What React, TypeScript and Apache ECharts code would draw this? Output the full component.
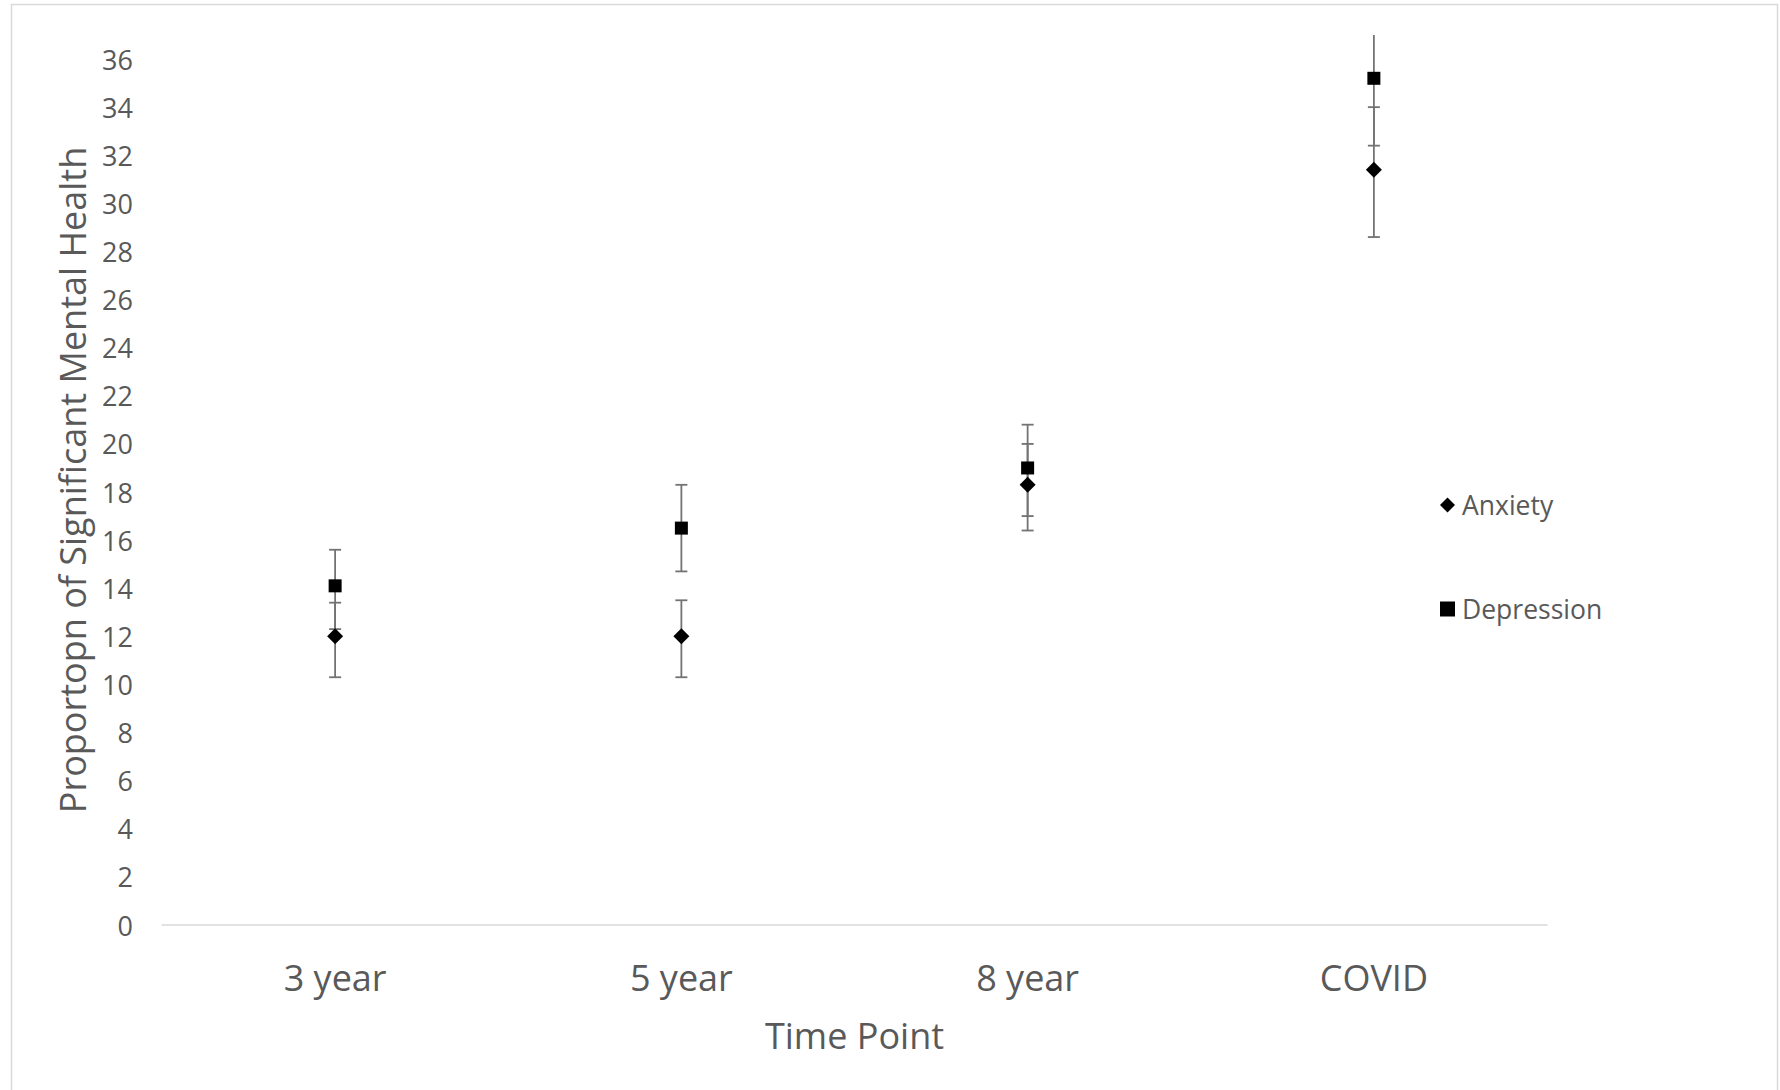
import React, { useEffect, useRef } from "react";
import * as echarts from "echarts";

const categories = ["3 year", "5 year", "8 year", "COVID"];
const anxiety = [12.0, 12.0, 18.3, 31.4];
const anxietyLow = [10.3, 10.3, 16.4, 28.6];
const anxietyHigh = [13.4, 13.5, 20.0, 34.0];
const depression = [14.1, 16.5, 19.0, 35.2];
const depressionLow = [12.3, 14.7, 17.0, 32.4];
const depressionHigh = [15.6, 18.3, 20.8, 38.0];

const FONT = "'Open Sans', sans-serif";
const TEXT = "#595959";
const BAR = "#737373";

function errorSeries(name: string, low: number[], high: number[]) {
  return {
    name: name + " error",
    type: "custom",
    clip: true,
    silent: true,
    z: 1,
    data: categories.map((_, i) => [i, low[i], high[i]]),
    renderItem: (_params: any, api: any) => {
      const i = api.value(0);
      const lo = api.coord([i, api.value(1)]);
      const hi = api.coord([i, api.value(2)]);
      const hw = 6;
      const style = { stroke: BAR, lineWidth: 1.8 };
      return {
        type: "group",
        children: [
          { type: "line", shape: { x1: lo[0], y1: lo[1], x2: hi[0], y2: hi[1] }, style },
          { type: "line", shape: { x1: lo[0] - hw, y1: lo[1], x2: lo[0] + hw, y2: lo[1] }, style },
          { type: "line", shape: { x1: hi[0] - hw, y1: hi[1], x2: hi[0] + hw, y2: hi[1] }, style },
        ],
      };
    },
  };
}

export default function App() {
  const ref = useRef<HTMLDivElement>(null);
  useEffect(() => {
    document.body.style.margin = "0";
    const chart = echarts.init(ref.current!, null, { renderer: "svg" });
    chart.setOption({
      animation: false,
      backgroundColor: "#ffffff",
      textStyle: { fontFamily: FONT },
      graphic: [
        {
          type: "rect",
          shape: { x: 11.5, y: 4.5, width: 1766, height: 1100 },
          style: { fill: "none", stroke: "#d9d9d9", lineWidth: 1.5 },
          silent: true,
          z: -10,
        },
      ],
      grid: { left: 162, right: 233, top: 35, bottom: 165, containLabel: false },
      legend: {
        orient: "vertical",
        left: 1435,
        top: 484,
        itemGap: 72,
        itemWidth: 15,
        itemHeight: 15,
        data: [
          { name: "Anxiety", icon: "diamond", itemStyle: { color: "#000000", opacity: 1 } },
          { name: "Depression", icon: "rect", itemStyle: { color: "#000000", opacity: 1 } },
        ],
        textStyle: { fontFamily: FONT, fontSize: 26.5, color: TEXT, lineHeight: 32, padding: [0, 0, 0, 2] },
        selectedMode: false,
      },
      xAxis: {
        type: "category",
        data: categories,
        boundaryGap: true,
        name: "Time Point",
        nameLocation: "middle",
        nameGap: 92,
        nameTextStyle: { fontFamily: FONT, fontSize: 36, color: TEXT },
        axisLine: { show: true, lineStyle: { color: "#d9d9d9", width: 1.5 } },
        axisTick: { show: false },
        axisLabel: { fontFamily: FONT, fontSize: 36, color: TEXT, margin: 34 },
        splitLine: { show: false },
      },
      yAxis: {
        type: "value",
        min: 0,
        max: 37,
        interval: 2,
        name: "Proportopn of Significant Mental Health",
        nameLocation: "middle",
        nameGap: 72,
        nameTextStyle: { fontFamily: FONT, fontSize: 36, color: TEXT },
        axisLine: { show: false },
        axisTick: { show: false },
        splitLine: { show: false },
        axisLabel: {
          fontFamily: FONT,
          fontSize: 27,
          color: TEXT,
          margin: 29,
          formatter: (v: number) => (v % 2 === 0 ? String(v) : ""),
        },
      },
      series: [
        errorSeries("Anxiety", anxietyLow, anxietyHigh),
        errorSeries("Depression", depressionLow, depressionHigh),
        {
          name: "Anxiety",
          type: "scatter",
          symbol: "diamond",
          symbolSize: 16,
          z: 3,
          itemStyle: { color: "#000000", opacity: 1 },
          data: anxiety,
        },
        {
          name: "Depression",
          type: "scatter",
          symbol: "rect",
          symbolSize: 13,
          z: 3,
          itemStyle: { color: "#000000", opacity: 1 },
          data: depression,
        },
      ],
    });
    return () => chart.dispose();
  }, []);
  return <div ref={ref} style={{ width: 1780, height: 1090 }} />;
}
